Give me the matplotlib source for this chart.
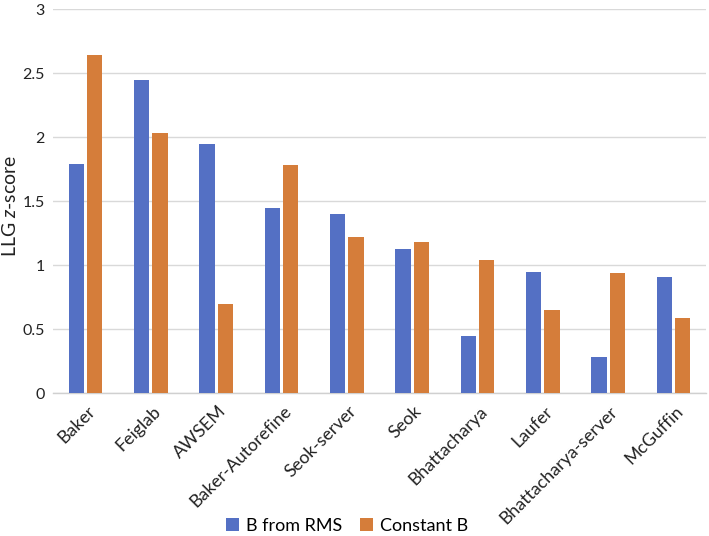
import matplotlib
matplotlib.use("Agg")
import matplotlib.pyplot as plt
import numpy as np
from matplotlib.patches import Patch
import matplotlib.transforms as mtransforms

categories = ["Baker", "Feiglab", "AWSEM", "Baker-Autorefine", "Seok-server", "Seok",
              "Bhattacharya", "Laufer", "Bhattacharya-server", "McGuffin"]
b_from_rms = [1.79, 2.45, 1.95, 1.45, 1.40, 1.13, 0.45, 0.95, 0.28, 0.91]
constant_b = [2.64, 2.03, 0.70, 1.78, 1.22, 1.18, 1.04, 0.65, 0.94, 0.59]
series_names = ["B from RMS", "Constant B"]
yticks = [0, 0.5, 1, 1.5, 2, 2.5, 3]
ytick_labels = ["0", "0.5", "1", "1.5", "2", "2.5", "3"]

blue = "#5470C4"
orange = "#D57D3A"

plt.rcParams['font.family'] = ['Lato', 'DejaVu Sans']
plt.rcParams['mathtext.fontset'] = 'custom'
plt.rcParams['mathtext.rm'] = 'Lato'
plt.rcParams['mathtext.it'] = 'Lato:italic'

fig = plt.figure(figsize=(7.09, 5.36), dpi=100)
ax = fig.add_axes([53/709, 1 - 393.3/536, 653/709, 384/536])

x = np.arange(len(categories))
w = 0.235
gap = 0.045
ax.bar(x - (w + gap)/2, b_from_rms, width=w, color=blue, label=series_names[0], zorder=3)
ax.bar(x + (w + gap)/2, constant_b, width=w, color=orange, label=series_names[1], zorder=3)

ax.set_xlim(-0.5, len(categories) - 0.5)
ax.set_ylim(0, 3)
ax.set_yticks(yticks)
ax.set_yticklabels(ytick_labels, fontsize=11.5, color="#222222")
ax.yaxis.grid(True, color="#D9D9D9", linewidth=1.0, zorder=0)
ax.set_axisbelow(True)
for s in ["top", "right", "left"]:
    ax.spines[s].set_visible(False)
ax.spines["bottom"].set_color("#D0D0D0")
ax.spines["bottom"].set_linewidth(1.0)
ax.tick_params(axis="y", length=0, pad=6)
ax.tick_params(axis="x", length=0, pad=7)

ax.set_xticks(x)
offset = mtransforms.ScaledTranslation(1.5/100, 0, fig.dpi_scale_trans)
labels = ax.set_xticklabels(categories, rotation=45, ha="right", va="top",
                            rotation_mode="anchor", fontsize=12.8, color="#222222")
for lab in labels:
    lab.set_transform(lab.get_transform() + offset)

fig.text(10/709, 1 - 206/536, r"LLG $\it{z}$-score", rotation=90, ha="center", va="center",
         fontsize=14, color="#222222")

handles = [Patch(facecolor=blue), Patch(facecolor=orange)]
fig.legend(handles, series_names, loc="center", bbox_to_anchor=(347/709, 1 - 526/536),
           ncol=2, frameon=False, fontsize=13, handlelength=0.7, handleheight=0.7,
           handletextpad=0.4, columnspacing=1.0)

fig.savefig("out.png", dpi=100)
